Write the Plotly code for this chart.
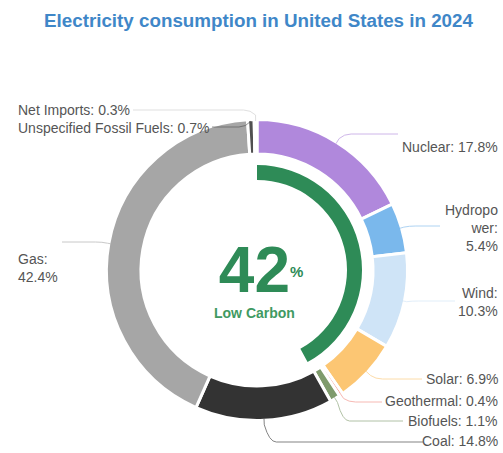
import math
import plotly.graph_objects as go

# --- data -------------------------------------------------------------
sources = ["Nuclear", "Hydropower", "Wind", "Solar", "Geothermal",
           "Biofuels", "Coal", "Gas", "Unspecified Fossil Fuels", "Net Imports"]
shares = [17.8, 5.4, 10.3, 6.9, 0.4, 1.1, 14.8, 42.4, 0.7, 0.3]
label_texts = ["Nuclear: 17.8%", "Hydropo<br>wer:<br>5.4%", "Wind:<br>10.3%",
               "Solar: 6.9%", "Geothermal: 0.4%", "Biofuels: 1.1%",
               "Coal: 14.8%", "Gas:<br>42.4%", "Unspecified Fossil Fuels: 0.7%",
               "Net Imports: 0.3%"]
low_carbon_share = 42
low_carbon_label = "Low Carbon"
title_text = "Electricity consumption in United States in 2024"

# --- style ------------------------------------------------------------
colors = ["#b088dc", "#7ab8ec", "#cfe4f7", "#fcc673", "#f28b82",
          "#7f9b6c", "#333333", "#a6a6a6", "#505050", "#e6e6e6"]
GREEN = "#2e8b57"
GREEN_LIGHT = "#3f9a62"
TEXT = "#555555"
FONT = "Liberation Sans, Arial, sans-serif"

W, H = 503, 453
CX, CY = 257, 270          # donut centre (px, from top-left)
R_OUT, R_IN = 150.5, 116   # outer ring
G_OUT, G_IN = 105, 90      # inner progress ring

# label layout: (side, text x, text y, connector end x, connector y, radial offset)
label_layout = [
    ("r", 500, 147, 398, 134, 6),
    ("r", 500, 228, 440, 226, 4),
    ("r", 500, 302, 455, 301, 4),
    ("r", 500, 379, 422, 379, 6),
    ("r", 500, 401, 382, 402, 6),
    ("r", 500, 421, 403, 421, 6),
    ("r", 500, 441, 423, 442, 6),
    ("l", 16, 268, 62, 242, 3),
    ("l", 16, 128, 212, 127, 0),
    ("l", 16, 110, 133, 110, 6),
]


def px(x):
    return x / W


def py(y):
    return 1 - y / H


def domain(r):
    return dict(x=[px(CX - r), px(CX + r)], y=[py(CY + r), py(CY - r)])


fig = go.Figure()

fig.add_trace(go.Pie(
    labels=sources, values=shares, sort=False, direction="clockwise",
    rotation=0, hole=R_IN / R_OUT, domain=domain(R_OUT),
    marker=dict(colors=colors, line=dict(color="white", width=3)),
    textinfo="none", hoverinfo="label+percent", showlegend=False,
))

fig.add_trace(go.Pie(
    values=[low_carbon_share, 100 - low_carbon_share], sort=False,
    direction="clockwise", rotation=0, hole=G_IN / G_OUT, domain=domain(G_OUT),
    marker=dict(colors=[GREEN, "rgba(0,0,0,0)"], line=dict(width=0)),
    textinfo="none", hoverinfo="skip", showlegend=False,
))

# connectors and labels, anchored at each slice's mid-angle
total = sum(shares)
cum = 0.0
shapes = []
annotations = []
r_edge = R_OUT - 1.5
for val, col, txt, lay in zip(shares, colors, label_texts, label_layout):
    side, tx, ty, ex, ly, off = lay
    mid = math.radians((cum + val / 2) / total * 360)
    cum += val
    x0 = CX + r_edge * math.sin(mid)
    y0 = CY - r_edge * math.cos(mid)
    x1 = CX + (r_edge + off) * math.sin(mid)
    y1 = CY - (r_edge + off) * math.cos(mid)
    s = 1 if side == "r" else -1
    qx, qy = x1 + s * 5, ly
    x2 = x1 + s * 12
    path = (f"M{px(x0)},{py(y0)} L{px(x1)},{py(y1)} "
            f"Q{px(qx)},{py(qy)} {px(x2)},{py(ly)} L{px(ex)},{py(ly)}")
    line_col = col if col != "#e6e6e6" else "#cccccc"
    shapes.append(dict(type="path", path=path, xref="paper", yref="paper",
                       line=dict(color=line_col, width=1), opacity=0.6))
    annotations.append(dict(
        text=txt, x=px(tx), y=py(ty), xref="paper", yref="paper",
        xanchor="right" if side == "r" else "left", yanchor="middle",
        align="right" if side == "r" else "left", showarrow=False,
        font=dict(family=FONT, size=14, color=TEXT),
    ))

# centre text: big share figure with its caption on a tight second line
centre_text = (f"<span style='font-size:64px'><b>{low_carbon_share}</b></span><br>"
               f"<span style='font-size:14px;color:{GREEN_LIGHT}'>"
               f"<b>{low_carbon_label}</b></span>")
annotations += [
    dict(text=centre_text, x=px(254), y=py(277), xref="paper", yref="paper",
         xanchor="center", yanchor="middle", align="center", showarrow=False,
         font=dict(family=FONT, size=20, color=GREEN)),
    dict(text="<b>%</b>", x=px(296), y=py(271), xref="paper", yref="paper",
         xanchor="center", yanchor="middle", showarrow=False,
         font=dict(family=FONT, size=15, color=GREEN)),
    dict(text=f"<b>{title_text}</b>", x=px(258), y=py(20),
         xref="paper", yref="paper", xanchor="center", yanchor="middle",
         showarrow=False, font=dict(family=FONT, size=18.8, color="#3f87c8")),
]

fig.update_layout(
    width=W, height=H, margin=dict(l=0, r=0, t=0, b=0),
    paper_bgcolor="white", plot_bgcolor="white",
    shapes=shapes, annotations=annotations,
)

fig.write_html("out.html")
